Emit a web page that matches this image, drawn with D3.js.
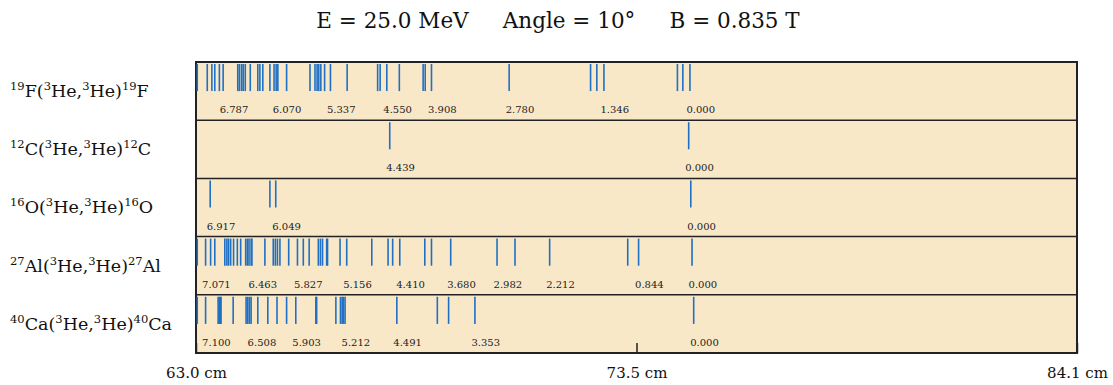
<!DOCTYPE html>
<html>
<head>
<meta charset="utf-8">
<script src="https://cdn.jsdelivr.net/npm/d3@7"></script>
<style>
  body { margin: 0; background: #fff; }
  svg { display: block; font-family: "DejaVu Serif", serif; }
</style>
</head>
<body>
<svg id="chart"></svg>
<script>
var width = 1113
var height = 385

// focal plane positions (cm) of every line, per reaction
var reactions = ["19F", "12C", "16O", "27Al", "40Ca"]
var targets = [
  {mass: "19", el: "F"},
  {mass: "12", el: "C"},
  {mass: "16", el: "O"},
  {mass: "27", el: "Al"},
  {mass: "40", el: "Ca"}
]

var lines19F = [63.03, 63.27, 63.38, 63.45, 63.56, 63.65, 64.00, 64.04, 64.09, 64.13, 64.18, 64.30,
  64.48, 64.53, 64.60, 64.77, 64.87, 64.92, 64.96, 65.17, 65.73, 65.85, 65.90, 65.94, 65.99, 66.08,
  66.22, 66.62, 67.35, 67.41, 67.57, 67.87, 68.44, 68.49, 68.64, 70.50, 72.45, 72.60, 72.77,
  74.53, 74.66, 74.83]
var lines12C = [67.64, 74.80]
var lines16O = [63.34, 64.77, 64.91, 74.85]
var lines27Al = [63.03, 63.23, 63.35, 63.45, 63.69, 63.74, 63.78, 63.83, 63.90, 63.99, 64.07, 64.19,
  64.23, 64.27, 64.32, 64.34, 64.65, 64.85, 64.90, 64.95, 65.01, 65.22, 65.43, 65.57, 65.71, 65.93,
  65.98, 66.03, 66.13, 66.15, 66.45, 66.61, 67.21, 67.60, 67.71, 67.88, 68.48, 68.64, 69.10, 70.21,
  70.64, 71.47, 73.34, 73.60, 74.88]
var lines40Ca = [63.03, 63.23, 63.53, 63.56, 63.58, 63.60, 63.89, 64.20, 64.24, 64.28, 64.32, 64.48,
  64.72, 64.94, 65.17, 65.39, 65.87, 65.89, 66.35, 66.46, 66.50, 66.53, 66.57, 67.81, 68.78, 69.05,
  69.68, 74.92]

// labelled excitation energies (MeV) and the line they belong to (cm)
var labels19F = [["6.787", 63.65], ["6.070", 64.92], ["5.337", 66.22], ["4.550", 67.57],
  ["3.908", 68.64], ["2.780", 70.50], ["1.346", 72.77], ["0.000", 74.83]]
var labels12C = [["4.439", 67.64], ["0.000", 74.80]]
var labels16O = [["6.917", 63.34], ["6.049", 64.91], ["0.000", 74.85]]
var labels27Al = [["7.071", 63.23], ["6.463", 64.34], ["5.827", 65.43], ["5.156", 66.61],
  ["4.410", 67.88], ["3.680", 69.10], ["2.982", 70.21], ["2.212", 71.47], ["0.844", 73.60],
  ["0.000", 74.88]]
var labels40Ca = [["7.100", 63.23], ["6.508", 64.32], ["5.903", 65.39], ["5.212", 66.57],
  ["4.491", 67.81], ["3.353", 69.68], ["0.000", 74.92]]

var allLines = [lines19F, lines12C, lines16O, lines27Al, lines40Ca]
var allLabels = [labels19F, labels12C, labels16O, labels27Al, labels40Ca]

var axisTicks = [63.0, 73.55, 84.1]
var axisTickLabels = ["63.0 cm", "73.5 cm", "84.1 cm"]
var titleText = "E = 25.0 MeV     Angle = 10\u00b0     B = 0.835 T"

var margin = {top: 62, right: 36, bottom: 32, left: 196}

var svg = d3.select("#chart")
  .attr("width", width)
  .attr("height", height)

var x = d3.scaleLinear()
  .domain([63.0, 84.1])
  .range([margin.left, width - margin.right])

var y = d3.scaleBand()
  .domain(reactions)
  .range([margin.top, height - margin.bottom])

svg.append("text")
  .attr("x", 558)
  .attr("y", 28)
  .attr("text-anchor", "middle")
  .attr("font-size", 21.5)
  .attr("fill", "#111")
  .style("white-space", "pre")
  .text(titleText)

// background
svg.append("rect")
  .attr("x", x.range()[0])
  .attr("y", y.range()[0])
  .attr("width", x.range()[1] - x.range()[0])
  .attr("height", y.range()[1] - y.range()[0])
  .attr("fill", "#f8e8c8")

// panel separators and frame
svg.selectAll("line.sep")
  .data(reactions.slice(1))
  .join("line")
  .attr("class", "sep")
  .attr("x1", x.range()[0])
  .attr("x2", x.range()[1])
  .attr("y1", function(d) { return y(d) })
  .attr("y2", function(d) { return y(d) })
  .attr("stroke", "#222")
  .attr("stroke-width", 1.5)

svg.append("rect")
  .attr("x", x.range()[0])
  .attr("y", y.range()[0])
  .attr("width", x.range()[1] - x.range()[0])
  .attr("height", y.range()[1] - y.range()[0])
  .attr("fill", "none")
  .attr("stroke", "#222")
  .attr("stroke-width", 2)

var panels = svg.selectAll("g.panel")
  .data(reactions)
  .join("g")
  .attr("class", "panel")
  .attr("transform", function(d) { return "translate(0," + y(d) + ")" })

panels.each(function(d, i) {
  var g = d3.select(this)
  g.selectAll("line.level")
    .data(allLines[i])
    .join("line")
    .attr("class", "level")
    .attr("x1", function(v) { return x(v) })
    .attr("x2", function(v) { return x(v) })
    .attr("y1", 2)
    .attr("y2", y.bandwidth() / 2)
    .attr("stroke", "#1f6fc4")
    .attr("stroke-width", 1.6)

  g.selectAll("text.energy")
    .data(allLabels[i])
    .join("text")
    .attr("class", "energy")
    .attr("x", function(v) { return x(v[1]) - 3.5 })
    .attr("y", y.bandwidth() - 7)
    .attr("font-size", 10)
    .attr("fill", "#222")
    .text(function(v) { return v[0] })

  // reaction name on the left
  var t = targets[i]
  var lab = g.append("text")
    .attr("x", 10)
    .attr("y", y.bandwidth() / 2 + 6)
    .attr("font-size", 17.5)
    .attr("fill", "#111")
  lab.append("tspan").attr("font-size", 11.5).attr("dy", -7).text(t.mass)
  lab.append("tspan").attr("dy", 7).text(t.el + "(")
  lab.append("tspan").attr("font-size", 11.5).attr("dy", -7).text("3")
  lab.append("tspan").attr("dy", 7).text("He,")
  lab.append("tspan").attr("font-size", 11.5).attr("dy", -7).text("3")
  lab.append("tspan").attr("dy", 7).text("He)")
  lab.append("tspan").attr("font-size", 11.5).attr("dy", -7).text(t.mass)
  lab.append("tspan").attr("dy", 7).text(t.el)
})

var axis = d3.axisBottom(x)
  .tickValues(axisTicks)
  .tickSize(-10)
  .tickPadding(14)
  .tickFormat(function(d, i) { return axisTickLabels[i] })

var gx = svg.append("g")
  .attr("transform", "translate(0," + y.range()[1] + ")")
  .call(axis)
gx.select(".domain").remove()
gx.selectAll(".tick line").attr("stroke", "#222").attr("stroke-width", 1.5)
gx.selectAll(".tick text")
  .attr("font-family", "DejaVu Serif, serif")
  .attr("font-size", 15)
  .attr("fill", "#111")
</script>
</body>
</html>
